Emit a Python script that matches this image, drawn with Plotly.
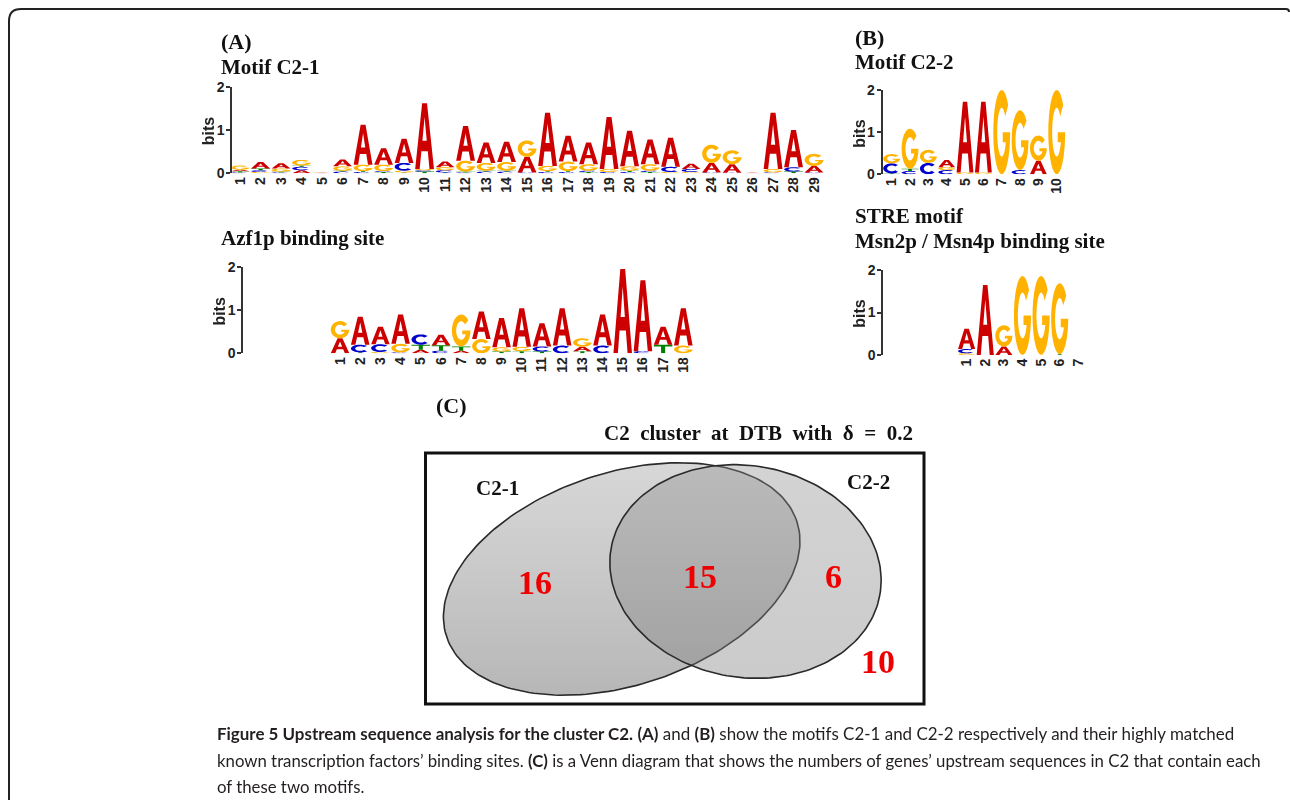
import numpy as np
import plotly.graph_objects as go

W, H = 1290, 800

# ---------------- DATA ----------------
# Sequence logo stacks: list per position of (letter, bits) from bottom to top
motif_c21 = [
    [('C', 0.02), ('T', 0.03), ('A', 0.03), ('G', 0.10)],
    [('G', 0.03), ('C', 0.04), ('T', 0.04), ('A', 0.15)],
    [('C', 0.02), ('T', 0.02), ('G', 0.07), ('A', 0.12)],
    [('A', 0.07), ('C', 0.08), ('T', 0.03), ('G', 0.13)],
    [('A', 0.01), ('G', 0.01)],
    [('C', 0.04), ('T', 0.02), ('G', 0.10), ('A', 0.16)],
    [('C', 0.03), ('T', 0.02), ('G', 0.15), ('A', 0.92)],
    [('T', 0.03), ('C', 0.02), ('G', 0.15), ('A', 0.38)],
    [('T', 0.02), ('G', 0.04), ('C', 0.18), ('A', 0.56)],
    [('T', 0.04), ('C', 0.03), ('G', 0.03), ('A', 1.52)],
    [('T', 0.02), ('C', 0.05), ('G', 0.07), ('A', 0.13)],
    [('C', 0.02), ('T', 0.02), ('G', 0.25), ('A', 0.80)],
    [('C', 0.04), ('T', 0.02), ('G', 0.18), ('A', 0.47)],
    [('C', 0.04), ('T', 0.02), ('G', 0.20), ('A', 0.47)],
    [('C', 0.02), ('A', 0.36), ('G', 0.38)],
    [('C', 0.03), ('T', 0.02), ('G', 0.12), ('A', 1.23)],
    [('C', 0.03), ('T', 0.02), ('G', 0.22), ('A', 0.60)],
    [('T', 0.03), ('C', 0.03), ('G', 0.15), ('A', 0.50)],
    [('C', 0.03), ('G', 0.07), ('A', 1.20)],
    [('C', 0.03), ('T', 0.03), ('G', 0.10), ('A', 0.82)],
    [('T', 0.03), ('C', 0.03), ('G', 0.15), ('A', 0.57)],
    [('G', 0.03), ('C', 0.12), ('A', 0.67)],
    [('G', 0.03), ('C', 0.07), ('A', 0.12)],
    [('C', 0.02), ('A', 0.22), ('G', 0.42)],
    [('C', 0.01), ('A', 0.20), ('G', 0.32)],
    [('A', 0.01)],
    [('C', 0.02), ('G', 0.08), ('A', 1.30)],
    [('T', 0.04), ('C', 0.10), ('A', 0.86)],
    [('C', 0.02), ('A', 0.15), ('G', 0.28)],
]
azf1p_site = [
    [('A', 0.35), ('G', 0.40)],
    [('T', 0.02), ('C', 0.18), ('A', 0.65)],
    [('G', 0.03), ('C', 0.18), ('A', 0.41)],
    [('C', 0.02), ('G', 0.20), ('A', 0.68)],
    [('A', 0.08), ('T', 0.12), ('C', 0.24)],
    [('C', 0.06), ('T', 0.13), ('A', 0.24)],
    [('A', 0.06), ('T', 0.10), ('G', 0.74)],
    [('G', 0.33), ('A', 0.64)],
    [('T', 0.04), ('G', 0.10), ('A', 0.68)],
    [('T', 0.05), ('G', 0.10), ('A', 0.90)],
    [('T', 0.04), ('C', 0.12), ('A', 0.54)],
    [('C', 0.18), ('A', 0.87)],
    [('T', 0.05), ('A', 0.10), ('G', 0.20)],
    [('C', 0.18), ('A', 0.72)],
    [('A', 1.96)],
    [('C', 0.05), ('A', 1.65)],
    [('T', 0.20), ('A', 0.42)],
    [('G', 0.18), ('A', 0.87)],
]
motif_c22 = [
    [('T', 0.02), ('C', 0.24), ('G', 0.22)],
    [('C', 0.08), ('T', 0.05), ('G', 0.95)],
    [('C', 0.27), ('G', 0.31)],
    [('C', 0.10), ('G', 0.07), ('A', 0.17)],
    [('G', 0.04), ('A', 1.68)],
    [('G', 0.04), ('A', 1.68)],
    [('G', 2.00)],
    [('C', 0.10), ('G', 1.42)],
    [('A', 0.32), ('G', 0.60)],
    [('G', 2.00)],
]
stre_site = [
    [('G', 0.04), ('C', 0.10), ('A', 0.48)],
    [('A', 1.65)],
    [('A', 0.20), ('G', 0.50)],
    [('G', 1.86)],
    [('G', 1.86)],
    [('T', 0.02), ('G', 1.67)],
    [],
]
c21_ticks = [str(i) for i in range(1, 30)]
azf_ticks = [str(i) for i in range(1, 19)]
c22_ticks = [str(i) for i in range(1, 11)]
stre_ticks = [str(i) for i in range(1, 8)]
bits_ticks = [0, 1, 2]

venn_sets = ['C2-1', 'C2-2']
venn_counts = [16, 15, 6, 10]   # C2-1 only, both, C2-2 only, neither

# ---------------- HELPERS ----------------
COL = {'A': '#CC0000', 'C': '#0000CC', 'G': '#FFB300', 'T': '#008000'}

def px_x(p):
    return p / W

def px_y(p):
    return 1 - p / H

def arc(cx, cy, rx, ry, a0, a1, n=28):
    t = np.radians(np.linspace(a0, a1, n))
    return [(cx + rx * np.cos(v), cy + ry * np.sin(v)) for v in t]

def glyph(letter):
    if letter == 'A':
        return [[(0, 0), (0.37, 1), (0.63, 1), (1, 0), (0.76, 0), (0.67, 0.27),
                 (0.33, 0.27), (0.24, 0)],
                [(0.385, 0.43), (0.615, 0.43), (0.5, 0.79)]]
    if letter == 'C':
        return [arc(0.5, 0.5, 0.5, 0.5, 42, 318) + arc(0.5, 0.5, 0.27, 0.29, 318, 42)]
    if letter == 'G':
        return [arc(0.5, 0.5, 0.5, 0.5, 40, 360) +
                [(0.56, 0.5), (0.56, 0.38), (0.74, 0.38)] +
                arc(0.5, 0.5, 0.27, 0.29, 330, 40)]
    if letter == 'T':
        return [[(0, 1), (1, 1), (1, 0.8), (0.61, 0.8), (0.61, 0), (0.39, 0),
                 (0.39, 0.8), (0, 0.8)]]
    return []

def letter_path(letter, x0, x1, y0, y1):
    parts = []
    for poly in glyph(letter):
        pts = [(x0 + u * (x1 - x0), y0 + v * (y1 - y0)) for u, v in poly]
        parts.append('M ' + ' L '.join(f'{a:.4f},{b:.5f}' for a, b in pts) + ' Z')
    return ' '.join(parts)

fig = go.Figure()
shapes = []
annotations = []

def txt(x, y, s, size, family='Liberation Serif', color='#111', angle=0, anchor='left'):
    annotations.append(dict(x=px_x(x), y=px_y(y), xref='paper', yref='paper', text=s,
                            showarrow=False, xanchor=anchor, yanchor='middle',
                            textangle=angle, borderpad=0,
                            font=dict(family=family, size=size, color=color)))

# logo subplots: (data, ticks, axis suffix, x-range, px domain x, px domain y(top,bottom))
logos = [
    (motif_c21, c21_ticks, '', [0.62, 29.5], (232.3, 824.3), (86.7, 173.3)),
    (motif_c22, c22_ticks, '2', [0.51, 10.5], (882.7, 1065.9), (90.0, 174.3)),
    (azf1p_site, azf_ticks, '3', [-3.79, 18.5], (243.3, 693.4), (267.3, 353.3)),
    (stre_site, stre_ticks, '4', [-3.48, 7.5], (883.3, 1087.6), (270.0, 355.0)),
]
LW = 0.46
for data, ticks, sfx, xr, dx, dy in logos:
    xa = 'x' + sfx
    ya = 'y' + sfx
    pos = list(range(1, len(data) + 1))
    totals = [sum(h for _, h in st) for st in data]
    fig.add_trace(go.Scatter(x=pos, y=totals, mode='markers', opacity=0,
                             hoverinfo='skip', xaxis=xa, yaxis=ya))
    for p, st in zip(pos, data):
        base = 0.0
        for letter, h in st:
            shapes.append(dict(type='path', xref=xa, yref=ya,
                               path=letter_path(letter, p - LW, p + LW, base, base + h),
                               fillcolor=COL[letter], line=dict(width=0), layer='above'))
            base += h
    key = 'axis' + sfx
    fig.layout['x' + key] = dict(domain=[px_x(dx[0]), px_x(dx[1])], range=xr,
                                 anchor=ya, showgrid=False, zeroline=False, showline=False,
                                 tickmode='array', tickvals=pos, ticktext=ticks,
                                 tickangle=-90, ticks='', ticklabelstandoff=0,
                                 automargin=False,
                                 tickfont=dict(family='Arial', size=14, color='#222',
                                               weight='bold'),
                                 fixedrange=True)
    fig.layout['y' + key] = dict(domain=[px_y(dy[1]), px_y(dy[0])], range=[0, 2],
                                 anchor=xa, showgrid=False, zeroline=False, showline=True,
                                 linecolor='#333', linewidth=2, ticks='outside',
                                 ticklen=4, tickwidth=2, tickcolor='#333',
                                 tickvals=bits_ticks, ticklabelstandoff=-1,
                                 automargin=False,
                                 tickfont=dict(family='Arial', size=14, color='#222',
                                               weight='bold'),
                                 fixedrange=True)
    txt(dx[0] - 24, (dy[0] + dy[1]) / 2 + 1, '<b>bits</b>', 16, 'Arial', '#222',
        angle=-90, anchor='center')

# ---------------- VENN ----------------
def ellipse(cx, cy, a, b, theta_deg, n=200):
    th = np.radians(theta_deg)
    t = np.linspace(0, 2 * np.pi, n)
    ux, uy = np.cos(th), np.sin(th)
    xs = cx + a * np.cos(t) * ux - b * np.sin(t) * uy
    ys = cy + a * np.cos(t) * uy + b * np.sin(t) * ux
    return xs, ys

e1x, e1y = ellipse(621.7, 579.0, 184.4, 106.3, -18.2)
e2x, e2y = ellipse(745.5, 571.5, 136.4, 105.9, 9.5)
for ex, ey, cs in [(e1x, e1y, [[0, 'rgba(110,110,110,0.50)'], [1, 'rgba(155,155,155,0.40)']]),
                   (e2x, e2y, [[0, 'rgba(125,125,125,0.40)'], [1, 'rgba(140,140,140,0.38)']])]:
    fig.add_trace(go.Scatter(x=ex, y=ey, mode='lines', fill='toself',
                             fillgradient=dict(type='vertical', colorscale=cs),
                             line=dict(color='#2a2a2a', width=1.6),
                             hoverinfo='skip', xaxis='x5', yaxis='y5'))

fig.layout['xaxis5'] = dict(domain=[px_x(400), px_x(960)], range=[400, 960],
                            visible=False, anchor='y5', fixedrange=True, automargin=False)
fig.layout['yaxis5'] = dict(domain=[px_y(720), px_y(440)], range=[720, 440],
                            visible=False, anchor='x5', fixedrange=True, automargin=False)

shapes.append(dict(type='rect', xref='x5', yref='y5', x0=425.5, x1=924, y0=453, y1=704,
                   line=dict(color='#111', width=3), layer='above'))

serif = 'Liberation Serif'
venn_pos = [(535, 582), (700, 576), (833, 576), (878, 661)]
for (vx, vy), n in zip(venn_pos, venn_counts):
    annotations.append(dict(x=vx, y=vy, xref='x5', yref='y5', text=f'<b>{n}</b>',
                            showarrow=False, font=dict(family=serif, size=34, color='#ee0000')))
for (vx, vy), s in zip([(497, 488), (868, 482)], venn_sets):
    annotations.append(dict(x=vx, y=vy, xref='x5', yref='y5', text=f'<b>{s}</b>',
                            showarrow=False, font=dict(family=serif, size=21, color='#111')))

# ---------------- TITLES ----------------
sp = ' \u00a0'
txt(220, 42, '<b>(A)</b>', 22)
txt(220, 67, '<b>Motif C2-1</b>', 21)
txt(220, 238, '<b>Azf1p binding site</b>', 21)
txt(854, 37, '<b>(B)</b>', 22)
txt(854, 62, '<b>Motif C2-2</b>', 21)
txt(854, 216, '<b>STRE motif</b>', 21)
txt(854, 241, '<b>Msn2p / Msn4p binding site</b>', 21)
txt(435, 406, '<b>(C)</b>', 22)
txt(603, 433, '<b>C2' + sp + 'cluster' + sp + 'at' + sp + 'DTB' + sp + 'with' + sp +
    'δ' + sp + '=' + sp + '0.2</b>', 21)

cap = 'Lato'
cc = '#231f20'
txt(216, 733, '<b>Figure 5 Upstream sequence analysis for the cluster C2.</b> <b>(A)</b> and '
              '<b>(B)</b> show the motifs C2-1 and C2-2 respectively and their highly matched',
    16.95, cap, cc)
txt(216, 760, 'known transcription factors’ binding sites. <b>(C)</b> is a Venn diagram that '
              'shows the numbers of genes’ upstream sequences in C2 that contain each',
    16.8, cap, cc)
txt(216, 786, 'of these two motifs.', 16.8, cap, cc)

# outer rounded frame
r = 12
frame = (f'M {px_x(9)},{px_y(805)} L {px_x(9)},{px_y(9 + r)} '
         f'Q {px_x(9)},{px_y(9)} {px_x(9 + r)},{px_y(9)} L {px_x(1286)},{px_y(9)} '
         f'Q {px_x(1289)},{px_y(9)} {px_x(1289)},{px_y(12)}')
shapes.append(dict(type='path', xref='paper', yref='paper', path=frame,
                   line=dict(color='#222', width=2)))

fig.update_layout(width=W, height=H, margin=dict(l=0, r=0, t=0, b=0, pad=0, autoexpand=False),
                  paper_bgcolor='white', plot_bgcolor='rgba(0,0,0,0)',
                  showlegend=False, shapes=shapes, annotations=annotations)

fig.write_html('out.html', config={'displayModeBar': False},
               post_script="document.body.style.margin='0';"
                           "document.body.style.overflow='hidden';")
